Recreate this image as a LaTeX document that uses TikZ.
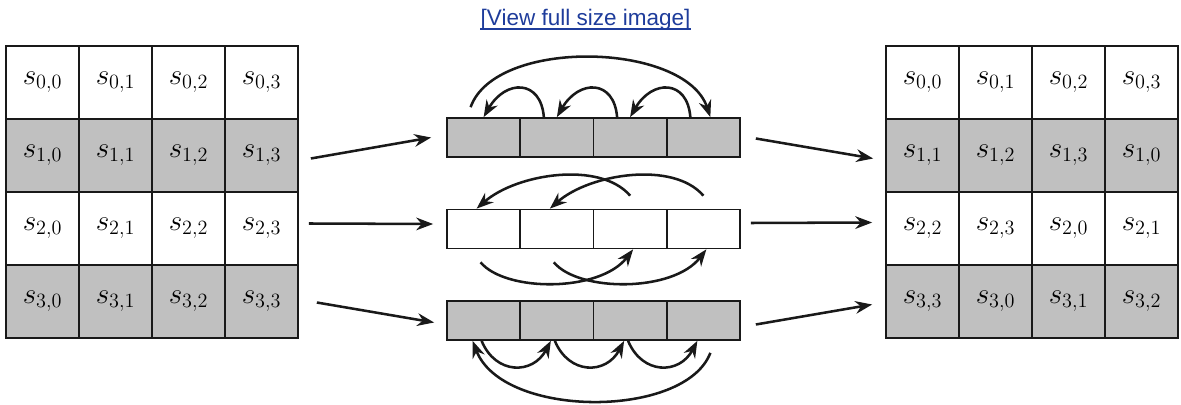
\documentclass[tikz,border=0pt]{standalone}
\usepackage{fontspec}
\usepackage{tikz}
\usetikzlibrary{calc,arrows.meta}
\newfontfamily\linkfont{Liberation Sans}
\definecolor{primary}{RGB}{25,25,25}
\definecolor{shade}{RGB}{192,192,192}
\definecolor{link}{RGB}{30,60,155}

\begin{document}
\begin{tikzpicture}[x=0.025cm,y=-0.025cm,
  cell/.style={draw=primary,line width=1.2pt,minimum width=1.825cm,minimum height=1.825cm,inner sep=0pt,font=\fontsize{22}{24}\selectfont},
  slot/.style={draw=primary,line width=1.2pt,minimum width=1.831cm,minimum height=0.975cm,inner sep=0pt},
  flow/.style={primary,line width=1.8pt,-{Stealth[length=12pt,width=9pt]}}]
\useasboundingbox (0,0) rectangle (1181,405);
% link text on top
\node[link,anchor=base,inner sep=0pt,font=\linkfont\fontsize{16}{18}\selectfont] (title) at (585.5,26) {[View full size image]};
\draw[link,line width=1.2pt] ($(title.base west)+(0,3)$) -- ($(title.base east)+(0,3)$);
% state before and after
\foreach \r/\f in {0/white,1/shade,2/white,3/shade}
  \foreach \c in {0,...,3} {
    \node[cell,fill=\f] (L\r\c) at ({42.5+73*\c},{82.5+73*\r}) {$s_{\r,\c}$};
    \pgfmathtruncatemacro\k{mod(\c+\r,4)}
    \node[cell,fill=\f] (R\r\c) at ({922.5+73*\c},{82.5+73*\r}) {$s_{\r,\k}$};
  }
% rows being shifted
\foreach \b/\y/\f in {1/137.5/shade,2/229/white,3/320.5/shade}
  \foreach \c in {1,...,4}
    \node[slot,fill=\f] (B\b\c) at ({483.6+73.25*(\c-1)},\y) {};
% in and out
\draw[flow] ($(L13.east)+(12,3)$) -- ($(B11.west)+(-15,0)$);
\draw[flow] ($(L23.east)+(10,-5)$) -- ($(B21.west)+(-13,-5)$);
\draw[flow] ($(L33.east)+(18,1)$) -- ($(B31.west)+(-12,2)$);
\draw[flow] ($(B14.east)+(15,1)$) -- ($(R10.west)+(-12,3)$);
\draw[flow] ($(B24.east)+(10,-6)$) -- ($(R20.west)+(-13,-6)$);
\draw[flow] ($(B34.east)+(15,4)$) -- ($(R30.west)+(-13,3)$);
% row 1
\foreach \a/\b in {2/1,3/2,4/3}
  \draw[flow] ($(B1\a.north)+(-13,0)$) .. controls +(-3,-38) and +(22,-38) .. (B1\b.north);
\draw[flow] ($(B11.north)+(-13,-10)$) .. controls +(25,-70) and +(-25,-75) .. ($(B14.north)+(7,0)$);
% row 2
\foreach \a/\b in {3/1,4/2}
  \draw[flow] ($(B2\a.north)+(0,-13)$) .. controls +(-30,-35) and +(40,-35) .. ($(B2\b.north)+(-7,0)$);
\foreach \a/\b in {1/3,2/4}
  \draw[flow] ($(B2\a.south)+(-3,13)$) .. controls +(25,30) and +(-33,43) .. ($(B2\b.south)+(3,0)$);
% row 3
\foreach \a/\b in {1/2,2/3,3/4}
  \draw[flow] ($(B3\a.south)+(-2,0)$) .. controls +(14,34) and +(-18,34) .. ($(B3\b.south)+(-6,0)$);
\draw[flow] ($(B34.south)+(7,12)$) .. controls +(-25,66) and +(30,78) .. ($(B31.south)+(-11,0)$);
\end{tikzpicture}
\end{document}
